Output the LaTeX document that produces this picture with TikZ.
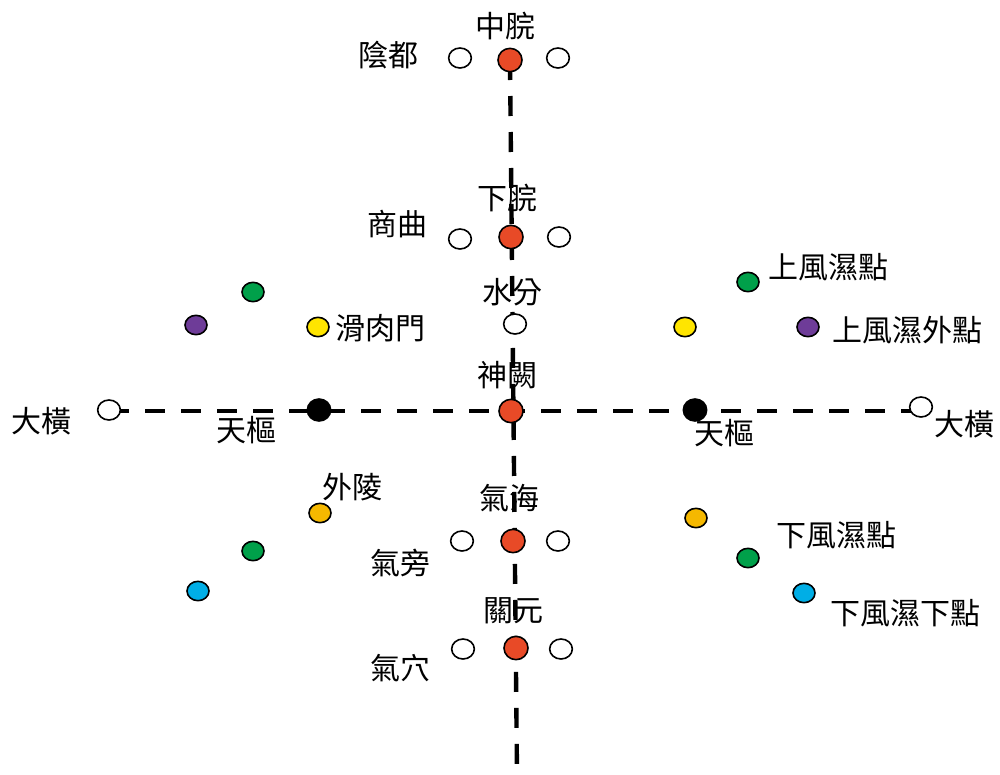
\documentclass[tikz,border=0pt]{standalone}
\usepackage{fontspec}
\newfontfamily\cjk{Noto Sans CJK TC}
\usetikzlibrary{shapes.geometric}
\definecolor{ptred}{HTML}{E84A27}
\definecolor{ptgreen}{HTML}{00A04A}
\definecolor{ptyellow}{HTML}{FFE500}
\definecolor{ptpurple}{HTML}{6E3C98}
\definecolor{ptorange}{HTML}{F5B800}
\definecolor{ptblue}{HTML}{00AEE6}
\tikzset{
  lbl/.style={font=\cjk\fontsize{22.5}{27}\selectfont, inner sep=0pt},
  dotbase/.style={ellipse, draw=black, line width=1.2pt, inner sep=0pt, minimum width=16.5pt, minimum height=14.5pt},
  wdot/.style={dotbase, fill=white, minimum width=17pt, minimum height=15pt},
  rdot/.style={dotbase, fill=ptred, minimum width=18pt, minimum height=17.5pt},
  bdot/.style={dotbase, fill=black, minimum width=17.5pt, minimum height=16.5pt},
  cdot/.style={dotbase, fill=#1},
  axisline/.style={line width=3.3pt, dash pattern=on 15pt off 12pt}
}
\begin{document}
\begin{tikzpicture}[x=0.75pt,y=-0.75pt]
\useasboundingbox (0,0) rectangle (1000,775);
% coordinates of points
\coordinate (zw) at (510,60);
\coordinate (xw) at (511,237);
\coordinate (sf) at (515,324);
\coordinate (sq) at (511,411);
\coordinate (qh) at (513,541);
\coordinate (gy) at (516,648);
\coordinate (vbot) at (517,775);
\coordinate (dhL) at (109,410);
\coordinate (dhR) at (921,407);
\coordinate (hL) at (109,411);
\coordinate (hR) at (915,411);
\coordinate (tsL) at (319,410);
\coordinate (tsR) at (695,410);

% labels
\node[lbl] (t-zw) at (505,26) {中脘};
\node[lbl] (t-yd) at (388,55) {陰都};
\node[lbl] (t-xw) at (507,198) {下脘};
\node[lbl] (t-sq1) at (397,224) {商曲};
\node[lbl] (t-sf) at (512,292) {水分};
\node[lbl] (t-hrm) at (380,328) {滑肉門};
\node[lbl] (t-sq) at (507,375) {神闕};
\node[lbl] (t-tsL) at (246,430) {天樞};
\node[lbl] (t-tsR) at (724,433) {天樞};
\node[lbl] (t-dhL) at (42,421) {大橫};
\node[lbl] (t-dhR) at (964,424) {大橫};
\node[lbl] (t-wl) at (352,487) {外陵};
\node[lbl] (t-qh) at (509,498) {氣海};
\node[lbl] (t-qp) at (400,563) {氣旁};
\node[lbl] (t-gy) at (513,611) {關元};
\node[lbl] (t-qx) at (400,668) {氣穴};
\node[lbl] (t-sfs) at (828,267) {上風濕點};
\node[lbl] (t-sfw) at (907,330) {上風濕外點};
\node[lbl] (t-xfs) at (836,535) {下風濕點};
\node[lbl] (t-xfx) at (905,613) {下風濕下點};

% axes
\draw[axisline] (zw) -- (vbot);
\draw[axisline] (hL) -- (hR);

% points on the vertical axis
\node[rdot] (p-zw) at (zw) {};
\node[wdot] (p-zwL) at (460,58) {};
\node[wdot] (p-zwR) at (558,58) {};
\node[rdot] (p-xw) at (xw) {};
\node[wdot] (p-xwL) at (460,239) {};
\node[wdot] (p-xwR) at (559,237) {};
\node[wdot] (p-sf) at (sf) {};
\node[rdot] (p-sq) at (sq) {};
\node[rdot] (p-qh) at (qh) {};
\node[wdot] (p-qhL) at (462,541) {};
\node[wdot] (p-qhR) at (558,541) {};
\node[rdot] (p-gy) at (gy) {};
\node[wdot] (p-gyL) at (463,649) {};
\node[wdot] (p-gyR) at (561,649) {};

% horizontal axis points
\node[wdot] (p-dhL) at (dhL) {};
\node[wdot] (p-dhR) at (dhR) {};
\node[bdot] (p-tsL) at (tsL) {};
\node[bdot] (p-tsR) at (tsR) {};

% upper side points
\node[cdot=ptgreen] (p-gL1) at (253,292) {};
\node[cdot=ptpurple] (p-pL) at (196,325) {};
\node[cdot=ptyellow] (p-yL) at (318,327) {};
\node[cdot=ptgreen] (p-gR1) at (748,282) {};
\node[cdot=ptyellow] (p-yR) at (685,327) {};
\node[cdot=ptpurple] (p-pR) at (808,327) {};

% lower side points
\node[cdot=ptorange] (p-oL) at (320,513) {};
\node[cdot=ptgreen] (p-gL2) at (253,551) {};
\node[cdot=ptblue] (p-bL) at (198,591) {};
\node[cdot=ptorange] (p-oR) at (696,518) {};
\node[cdot=ptgreen] (p-gR2) at (748,558) {};
\node[cdot=ptblue] (p-bR) at (804,593) {};
\end{tikzpicture}
\end{document}
